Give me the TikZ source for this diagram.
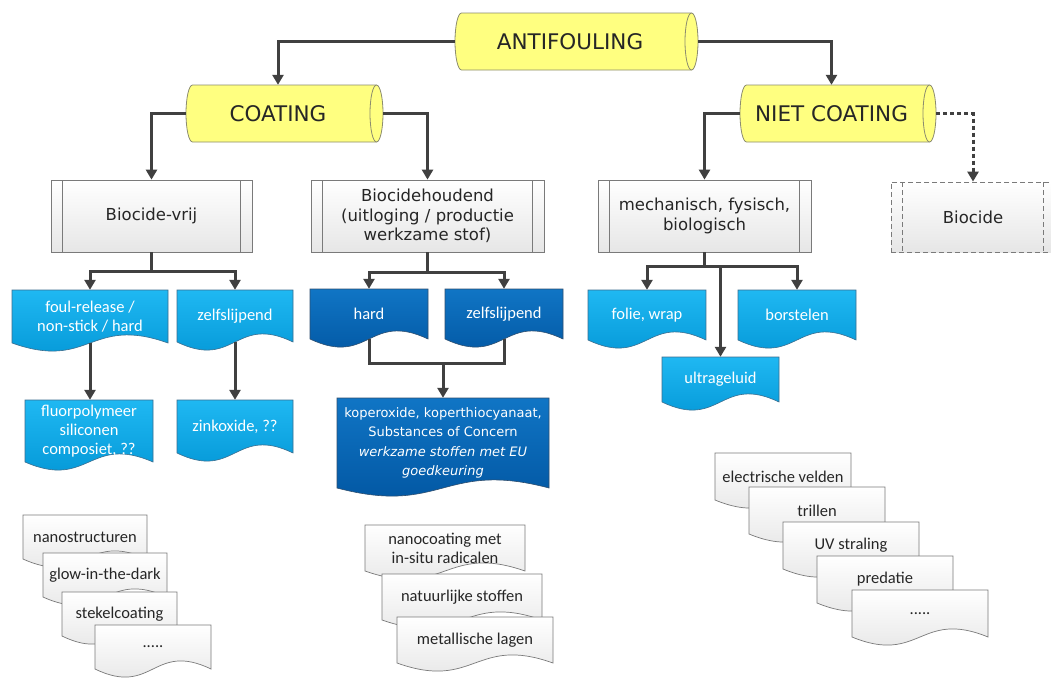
\documentclass[tikz,border=0pt]{standalone}
\usepackage{fontspec}
\setmainfont{DejaVu Sans}
\newfontfamily\verd{DejaVu Sans}
\newfontfamily\cali{Carlito}
\usetikzlibrary{arrows.meta}

\definecolor{lbtop}{HTML}{1FB8F2}
\definecolor{lbbot}{HTML}{0093D3}
\definecolor{lbline}{HTML}{3B6E8F}
\definecolor{dbtop}{HTML}{1075C5}
\definecolor{dbbot}{HTML}{00539E}
\definecolor{dbline}{HTML}{2F4F6F}
\definecolor{grbot}{HTML}{E2E2E2}
\definecolor{grline}{HTML}{7A7A7A}
\definecolor{prbot}{HTML}{E6E6E6}
\definecolor{cylfill}{HTML}{FFFF80}
\definecolor{cylline}{HTML}{8C8C6E}
\definecolor{connc}{HTML}{404040}
\definecolor{txt}{HTML}{262626}

\tikzset{
  lb shape/.style={draw=lbline, line width=0.6pt, top color=lbtop, bottom color=lbbot},
  lb text/.style={font=\cali\fontsize{16.5}{19}\selectfont, text=white, align=center, inner sep=0pt},
  db shape/.style={draw=dbline, line width=0.6pt, top color=dbtop, bottom color=dbbot},
  db text/.style={font=\cali\fontsize{16.5}{19}\selectfont, text=white, align=center, inner sep=0pt},
  kop shape/.style={db shape},
  kop text/.style={font=\verd\fontsize{13}{19.5}\selectfont, text=white, align=center, inner sep=0pt},
  gr shape/.style={draw=grline, line width=0.7pt, top color=white, bottom color=grbot},
  gr text/.style={font=\cali\fontsize{16.5}{19}\selectfont, text=txt, align=center, inner sep=0pt},
  cyl shape/.style={draw=cylline, line width=0.8pt, fill=cylfill},
  cyl edge/.style={draw=cylline, line width=0.8pt},
  cyl text/.style={font=\verd\fontsize{21.5}{24}\selectfont, text=black!85, inner sep=0pt},
  proc/.style={rectangle, draw=grline, line width=0.8pt, top color=white, bottom color=prbot,
    font=\verd\fontsize{16.5}{19.5}\selectfont, text=txt, align=center, inner sep=0pt,
    minimum height=72pt,
    path picture={\draw[grline, line width=0.8pt]
      ([xshift=11.5pt]path picture bounding box.north west) -- ([xshift=11.5pt]path picture bounding box.south west)
      ([xshift=-11.5pt]path picture bounding box.north east) -- ([xshift=-11.5pt]path picture bounding box.south east);}},
  procd/.style={rectangle, draw=grline, line width=0.8pt, dash pattern=on 5pt off 3pt,
    top color=white, bottom color=prbot,
    font=\verd\fontsize{16.5}{19.5}\selectfont, text=txt, align=center, inner sep=0pt,
    minimum height=70pt,
    path picture={\draw[grline, line width=0.8pt, dash pattern=on 5pt off 3pt]
      ([xshift=11.5pt]path picture bounding box.north west) -- ([xshift=11.5pt]path picture bounding box.south west)
      ([xshift=-11.5pt]path picture bounding box.north east) -- ([xshift=-11.5pt]path picture bounding box.south east);}},
  conn/.style={draw=connc, line width=3pt, -{Triangle[length=10pt,width=11pt]}},
  connline/.style={draw=connc, line width=3pt},
  conndash/.style={draw=connc, line width=3pt, dash pattern=on 4pt off 3pt, -{Triangle[length=10pt,width=11pt]}},
}

\newcommand\docamp{28}
\newcommand\docnode[7]{%
  \path[#1 shape] (#3,-#4) -- ({#3+#5},-#4) -- ({#3+#5},{-(#4+#6)})
    .. controls ({#3+0.5*#5},{-(#4+#6)+\docamp}) and ({#3+0.5*#5},{-(#4+#6)-\docamp}) .. (#3,{-(#4+#6)}) -- cycle;
  \node[#1 text, minimum width={#5*1pt}, minimum height={#6*1pt}] (#2) at ({#3+0.5*#5},{-(#4+0.5*#6)}) {#7};
}

\newcommand\cylnode[6]{%
  \path[cyl shape] ({#2+6.5},-#4) -- ({#3-6.5},-#4)
     arc[start angle=90,end angle=-90,x radius=6.5,y radius={(#5-#4)/2}]
     -- ({#2+6.5},-#5)
     arc[start angle=270,end angle=90,x radius=6.5,y radius={(#5-#4)/2}] -- cycle;
  \draw[cyl edge] ({#3-6.5},-#4) arc[start angle=90,end angle=270,x radius=6.5,y radius={(#5-#4)/2}];
  \node[cyl text, minimum width={(#3-#2-13)*1pt}, minimum height={(#5-#4)*1pt}] (#1) at ({(#2+#3-13)/2},{-(#4+#5)/2}) {#6};
}

\begin{document}
\begin{tikzpicture}[x=1pt, y=1pt]
\fill[white] (0,0) rectangle (1051,-680);
\useasboundingbox (0,0) rectangle (1051,-680);

% cylinders
\cylnode{anf}{455}{698}{13}{70}{ANTIFOULING}
\cylnode{coat}{186}{383}{85}{142}{COATING}
\cylnode{niet}{740}{936}{85}{142}{NIET COATING}

% process boxes
\node[proc, minimum width=201pt] (bv) at (151.5,-216) {Biocide-vrij};
\node[proc, minimum width=233pt] (bh) at (427.5,-216) {Biocidehoudend\\(uitloging / productie\\werkzame stof)};
\node[proc, minimum width=213pt] (mech) at (704.5,-216) {mechanisch, fysisch,\\biologisch};
\node[procd, minimum width=164pt] (bio) at (973,-217) {Biocide};

% blue documents
\docnode{lb}{fr}{12}{290}{156}{53}{foul-release /\\non-stick / hard}
\docnode{lb}{zs1}{177}{290}{116}{52}{zelfslijpend}
\docnode{lb}{fluor}{25}{400}{128}{62}{fluorpolymeer\\siliconen\\composiet, ??}
\docnode{lb}{zink}{177}{400}{116}{53}{zinkoxide, ??}
\docnode{db}{hard}{310}{289}{118}{50}{hard}
\docnode{db}{zs2}{445}{289}{118}{50}{zelfslijpend}
\docnode{kop}{kop}{337}{398}{212}{90}{koperoxide, koperthiocyanaat,\\Substances of Concern\\\textit{werkzame stoffen met EU}\\\textit{goedkeuring}}
\docnode{lb}{folie}{588}{290}{118}{50}{folie, wrap}
\docnode{lb}{borst}{738}{290}{118}{50}{borstelen}
\docnode{lb}{ultra}{662}{357}{117}{45}{ultrageluid}

% gray stacks left
\docnode{gr}{g1}{23}{515}{124}{44}{nanostructuren}
\docnode{gr}{g2}{43}{553}{124}{44}{glow-in-the-dark}
\docnode{gr}{g3}{62}{592}{115}{44}{stekelcoating}
\docnode{gr}{g4}{95}{625}{116}{44}{.....}
% gray stacks middle
\docnode{gr}{m1}{365}{525}{160}{46}{nanocoating met\\in-situ radicalen}
\docnode{gr}{m2}{382}{574}{160}{46}{natuurlijke stoffen}
\docnode{gr}{m3}{397}{617}{156}{46}{metallische lagen}
% gray stacks right
\docnode{gr}{r1}{715}{453}{136}{47}{electrische velden}
\docnode{gr}{r2}{749}{487}{136}{47}{trillen}
\docnode{gr}{r3}{783}{522}{136}{47}{UV straling}
\docnode{gr}{r4}{817}{556}{136}{47}{predatie}
\docnode{gr}{r5}{852}{590}{136}{47}{.....}

% connectors
\draw[conn] (anf.west) -| (coat.north);
\draw[conn] ([xshift=13pt]anf.east) -| (niet.north);
\draw[conn] (coat.west) -| (bv.north);
\draw[conn] ([xshift=13pt]coat.east) -| (bh.north);
\draw[conn] (niet.west) -| (mech.north);
\draw[conndash] ([xshift=13pt]niet.east) -| (bio.north);

\coordinate (j1) at (151.5,-271);
\draw[connline] (bv.south) -- (j1);
\draw[conn] (j1) -| (fr.north);
\draw[conn] (j1) -| (zs1.north);

\coordinate (j2) at (427.5,-272);
\draw[connline] (bh.south) -- (j2);
\draw[conn] (j2) -| (hard.north);
\draw[conn] (j2) -| (zs2.north);

\coordinate (j3) at (704.5,-266);
\draw[connline] (mech.south) -- (j3);
\draw[conn] (j3) -| (folie.north);
\draw[conn] (j3) -| (borst.north);
\draw[conn] (j3 -| ultra.north) -- (ultra.north);

\draw[conn] (fr.south) -- (fr.south |- fluor.north);
\draw[conn] (zs1.south) -- (zink.north);

\coordinate (j4) at (443,-363);
\draw[connline] (hard.south) |- (j4);
\draw[connline] (zs2.south) |- (j4);
\draw[conn] (j4) -- (kop.north);
\end{tikzpicture}
\end{document}
